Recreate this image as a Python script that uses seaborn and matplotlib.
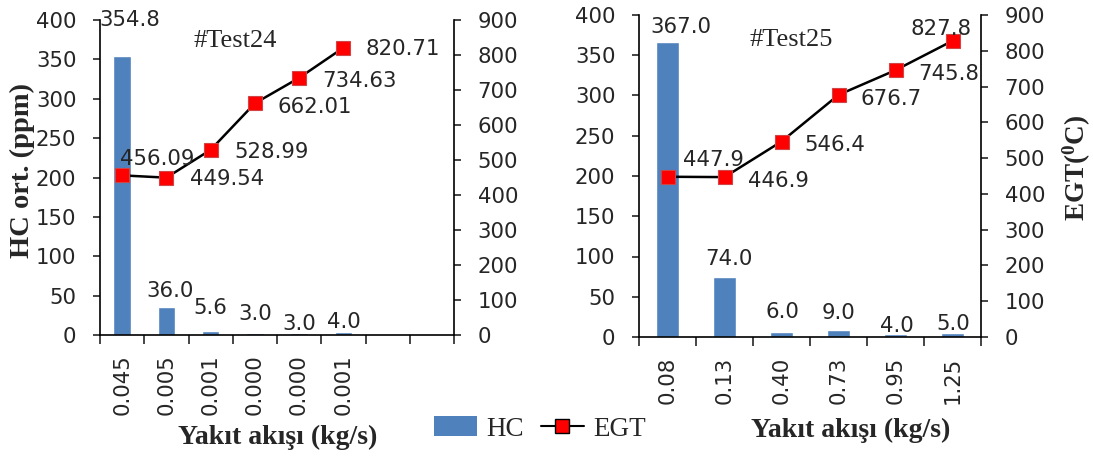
import matplotlib
matplotlib.use("Agg")
import matplotlib.pyplot as plt
import numpy as np
import pandas as pd
import seaborn as sns
from matplotlib.lines import Line2D
from matplotlib.patches import Patch

# ---- data -------------------------------------------------------------
flow_24 = ["0.045", "0.005", "0.001", "0.000", "0.000", "0.001"]
hc_24 = [354.8, 36.0, 5.6, 3.0, 3.0, 4.0]
egt_24 = [456.09, 449.54, 528.99, 662.01, 734.63, 820.71]

flow_25 = ["0.08", "0.13", "0.40", "0.73", "0.95", "1.25"]
hc_25 = [367.0, 74.0, 6.0, 9.0, 4.0, 5.0]
egt_25 = [447.9, 446.9, 546.4, 676.7, 745.8, 827.8]

# label placement (pixel offsets of the label centre from the mark)
hc24_off = [(8, 37.6), (3.5, 17.6), (0, 24.6), (0, 20.6), (0, 10.6), (0, 12)]
egt24_off = [(35, 18), (60.5, 0), (60.5, 0), (59.6, -1.7), (60, -1), (59.6, 0)]
hc25_off = [(13.5, 16.6), (4, 20), (1, 22), (0, 18), (1, 9), (1, 11)]
egt25_off = [(45.5, 18), (53.5, -2), (53, -1.5), (53, -2), (53.5, -2), (-11.5, 14)]

# ---- style ------------------------------------------------------------
sns.set_style("ticks")
plt.rcParams["font.family"] = ["DejaVu Sans"]
plt.rcParams["mathtext.fontset"] = "custom"
plt.rcParams["mathtext.rm"] = "Liberation Serif:bold"
plt.rcParams["mathtext.it"] = "Liberation Serif:bold"
plt.rcParams["mathtext.bf"] = "Liberation Serif:bold"

BAR = "#4F81BD"
SERIF = "Liberation Serif"
NUM_SIZE = 15.3
CAP_HALF = 7.7  # half cap height of the numeric labels, in pixels

W, H = 1093, 457
fig = plt.figure(figsize=(W / 100, H / 100), dpi=100)


def panel(rect, flows, hc, egt, n_slots, hc_off, egt_off, egt_fmt):
    ax = fig.add_axes(rect)
    df = pd.DataFrame({"pos": np.arange(len(hc)), "HC": hc})
    sns.barplot(data=df, x="pos", y="HC", color=BAR, saturation=1,
                width=0.4, ax=ax)
    axr = ax.twinx()
    sns.lineplot(x=np.arange(len(egt)), y=egt, ax=axr, color="black",
                 lw=1.8, marker="s", markersize=10, markerfacecolor="#FF0000",
                 markeredgecolor="#D04545", markeredgewidth=0.8)

    for a in (ax, axr):
        a.set_xlim(-0.5, n_slots - 0.5)
        a.set_xlabel("")
        a.set_ylabel("")
        for s in a.spines.values():
            s.set_linewidth(1.2)
            s.set_color("black")
    ax.set_ylim(0, 400)
    ax.set_yticks(range(0, 401, 50))
    axr.set_ylim(0, 900)
    axr.set_yticks(range(0, 901, 100))

    ax.spines["top"].set_visible(False)
    ax.spines["right"].set_visible(False)
    axr.spines["top"].set_visible(False)
    axr.spines["left"].set_visible(False)
    axr.spines["bottom"].set_visible(False)

    labels = list(flows) + [""] * (n_slots - len(flows))
    ax.set_xticks(range(n_slots))
    ax.set_xticklabels(labels, rotation=90, fontsize=NUM_SIZE)
    ax.set_xticks(np.arange(n_slots + 1) - 0.5, minor=True)
    ax.tick_params(axis="x", which="major", length=0, pad=14)
    ax.tick_params(axis="x", which="minor", length=6.5, width=1.2)
    ax.tick_params(axis="y", length=5, width=1.2, pad=12, labelsize=NUM_SIZE)
    axr.tick_params(axis="y", length=5, width=1.2, pad=12, labelsize=NUM_SIZE)

    for i, v in enumerate(hc):
        dx, dy = hc_off[i]
        ax.annotate(f"{v:.1f}", (i, v), xytext=(dx, dy - CAP_HALF),
                    textcoords="offset pixels", ha="center", va="baseline",
                    fontsize=NUM_SIZE, annotation_clip=False)
    for i, v in enumerate(egt):
        dx, dy = egt_off[i]
        axr.annotate(egt_fmt.format(v), (i, v), xytext=(dx, dy - CAP_HALF),
                     textcoords="offset pixels", ha="center", va="baseline",
                     fontsize=NUM_SIZE, annotation_clip=False)
    return ax, axr


panel([100 / W, 1 - 335 / H, 354 / W, 315 / H], flow_24, hc_24, egt_24, 8,
      hc24_off, egt24_off, "{:.2f}")
panel([639 / W, 1 - 337 / H, 342 / W, 322 / H], flow_25, hc_25, egt_25, 6,
      hc25_off, egt25_off, "{:.1f}")

# ---- texts ------------------------------------------------------------
fig.text(235 / W, 1 - 41 / H, "#Test24", family=SERIF, fontsize=19,
         ha="center", va="center")
fig.text(791 / W, 1 - 40 / H, "#Test25", family=SERIF, fontsize=19,
         ha="center", va="center")
fig.text(22 / W, 1 - 171 / H, "HC ort. (ppm)", family=SERIF, fontsize=20.5,
         fontweight="bold", rotation=90, ha="center", va="center")
fig.text(1077 / W, 1 - 168 / H, "EGT($^{0}$C)", family=SERIF, fontsize=19.5,
         fontweight="bold", rotation=90, ha="center", va="center")
fig.text(278 / W, 1 - 437 / H, "Yakıt akışı (kg/s)", family=SERIF,
         fontsize=20, fontweight="bold", ha="center", va="center")
fig.text(851 / W, 1 - 430 / H, "Yakıt akışı (kg/s)", family=SERIF,
         fontsize=20, fontweight="bold", ha="center", va="center")

handles = [
    Patch(facecolor=BAR, edgecolor="none", label="HC"),
    Line2D([], [], color="black", lw=1.5, marker="s", markersize=10,
           markerfacecolor="#FF0000", markeredgecolor="black",
           markeredgewidth=1.0, label="EGT"),
]
fig.legend(handles=handles, loc="center", bbox_to_anchor=(540 / W, 1 - 429 / H),
           ncol=2, frameon=False, prop={"family": SERIF, "size": 19.5},
           handlelength=1.6, handleheight=0.75, handletextpad=0.35,
           columnspacing=0.6, borderpad=0, borderaxespad=0)

fig.savefig("out.png", dpi=100)
